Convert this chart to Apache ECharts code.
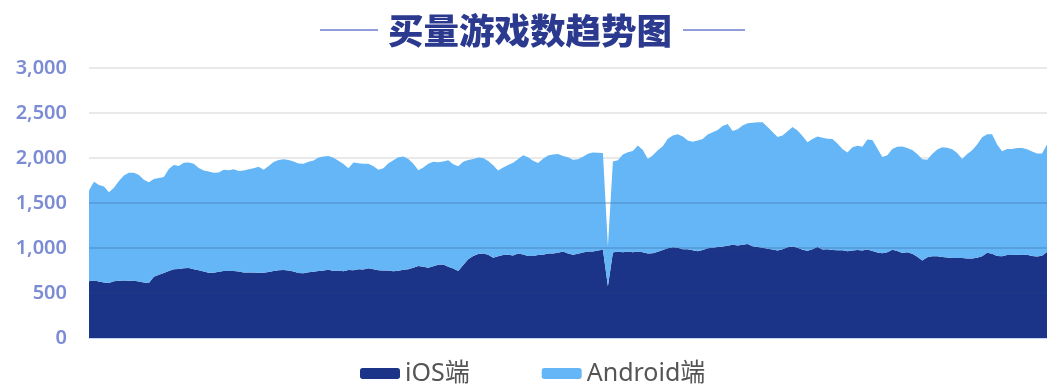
<!DOCTYPE html>
<html>
<head>
<meta charset="utf-8">
<title>买量游戏数趋势图</title>
<script src="https://cdn.jsdelivr.net/npm/echarts@6/dist/echarts.min.js"></script>
<style>
  html, body { margin: 0; padding: 0; background: #ffffff; }
  #chart { width: 1047px; height: 384px; }
</style>
</head>
<body>
<div id="chart"></div>
<script>
// Daily count of games running paid user-acquisition, split by platform
const seriesNames = ['iOS端', 'Android端'];

const iosCounts = [
  630, 638, 628, 617, 612, 630, 637, 640, 637, 636,
  628, 616, 612, 680, 703, 722, 745, 764, 768, 775,
  778, 765, 753, 740, 725, 725, 735, 744, 744, 744,
  738, 729, 729, 729, 725, 725, 734, 744, 754, 756,
  750, 740, 722, 720, 731, 736, 744, 750, 758, 745,
  749, 742, 755, 753, 763, 760, 774, 763, 753, 751,
  749, 742, 746, 757, 765, 780, 799, 793, 780, 798,
  815, 818, 793, 772, 745, 810, 875, 912, 934, 940,
  925, 893, 909, 923, 925, 916, 938, 929, 910, 912,
  923, 925, 940, 938, 948, 960, 940, 925, 935, 949,
  960, 962, 971, 980, 575, 950, 960, 953, 960, 953,
  960, 953, 939, 942, 958, 977, 996, 1009, 1002, 985,
  987, 976, 964, 977, 996, 1004, 1010, 1017, 1024, 1037,
  1028, 1035, 1045, 1020, 1012, 1002, 991, 983, 972, 985,
  1007, 1017, 1004, 980, 969, 985, 1012, 982, 987, 978,
  975, 975, 964, 971, 979, 972, 982, 966, 949, 941,
  954, 980, 967, 944, 952, 935, 902, 860, 896, 909,
  907, 901, 895, 889, 890, 890, 882, 884, 893, 907,
  946, 935, 910, 909, 922, 921, 924, 921, 924, 910,
  905, 915, 955
];

const androidCounts = [
  1010, 1097, 1072, 1067, 1008, 1040, 1108, 1165, 1198, 1199,
  1182, 1142, 1118, 1088, 1074, 1068, 1133, 1158, 1144, 1171,
  1173, 1170, 1137, 1122, 1124, 1111, 1104, 1126, 1121, 1130,
  1118, 1131, 1145, 1157, 1178, 1145, 1178, 1211, 1224, 1230,
  1228, 1220, 1218, 1215, 1226, 1236, 1261, 1266, 1264, 1259,
  1221, 1190, 1130, 1197, 1180, 1176, 1162, 1144, 1117, 1134,
  1193, 1232, 1262, 1261, 1225, 1155, 1066, 1102, 1157, 1160,
  1138, 1142, 1182, 1159, 1163, 1148, 1102, 1078, 1071, 1060,
  1042, 1027, 953, 972, 996, 1030, 1052, 1101, 1097, 1058,
  1022, 1068, 1087, 1101, 1097, 1063, 1068, 1055, 1050, 1066,
  1088, 1098, 1086, 1075, 443, 1012, 1015, 1087, 1104, 1125,
  1180, 1137, 1051, 1088, 1127, 1153, 1219, 1241, 1263, 1255,
  1208, 1204, 1231, 1233, 1264, 1282, 1300, 1338, 1354, 1263,
  1292, 1327, 1340, 1373, 1384, 1394, 1354, 1307, 1261, 1265,
  1291, 1328, 1301, 1265, 1206, 1225, 1228, 1244, 1226, 1233,
  1185, 1125, 1098, 1149, 1156, 1153, 1223, 1234, 1156, 1069,
  1076, 1120, 1158, 1183, 1160, 1153, 1143, 1125, 1084, 1136,
  1188, 1219, 1218, 1207, 1165, 1098, 1163, 1201, 1257, 1323,
  1319, 1330, 1240, 1166, 1177, 1179, 1187, 1189, 1173, 1162,
  1145, 1135, 1195
];

// One category per day; the axis labels are hidden
const dayLabels = iosCounts.map((_, i) => 'Day ' + (i + 1));

const yTicks = { min: 0, max: 3000, interval: 500 };
const innerGridLevels = [500, 1000, 1500];

const chart = echarts.init(document.getElementById('chart'), null, { renderer: 'canvas' });

const labelFont = '"Noto Sans", "Noto Sans CJK SC", sans-serif';

chart.setOption({
  backgroundColor: '#ffffff',
  animation: false,
  title: {
    text: '买量游戏数趋势图',
    left: 388,
    top: 13,
    padding: 0,
    textStyle: {
      fontFamily: '"Noto Sans CJK SC", sans-serif',
      fontSize: 35.5,
      fontWeight: 900,
      color: '#2b3a8e'
    }
  },
  graphic: [
    { type: 'line', shape: { x1: 320, y1: 30, x2: 378, y2: 30 },
      style: { stroke: '#8f9dd8', lineWidth: 2 }, silent: true },
    { type: 'line', shape: { x1: 683, y1: 30, x2: 745, y2: 30 },
      style: { stroke: '#8f9dd8', lineWidth: 2 }, silent: true }
  ],
  legend: {
    data: seriesNames,
    left: 355,
    top: 356,
    itemGap: 72,
    itemWidth: 40,
    itemHeight: 11,
    icon: 'roundRect',
    textStyle: {
      fontFamily: labelFont,
      fontSize: 25,
      color: '#555555'
    }
  },
  grid: {
    left: 89,
    right: -2,
    top: 68,
    bottom: 46,
    containLabel: false
  },
  xAxis: {
    type: 'category',
    data: dayLabels,
    boundaryGap: false,
    axisLine: { show: true, lineStyle: { color: '#c9d6f2', width: 1 } },
    axisTick: { show: false },
    axisLabel: { show: false },
    splitLine: { show: false }
  },
  yAxis: {
    type: 'value',
    min: yTicks.min,
    max: yTicks.max,
    interval: yTicks.interval,
    axisLine: { show: false },
    axisTick: { show: false },
    axisLabel: {
      margin: 22,
      fontFamily: labelFont,
      fontSize: 20,
      fontWeight: 600,
      color: '#7b8cd4',
      formatter: v => v.toLocaleString('en-US')
    },
    splitLine: { show: true, lineStyle: { color: '#e2e2e2', width: 1.5 } }
  },
  series: [
    {
      name: seriesNames[0],
      type: 'line',
      stack: 'games',
      data: iosCounts,
      showSymbol: false,
      smooth: false,
      lineStyle: { width: 0 },
      itemStyle: { color: '#1b3487' },
      areaStyle: { color: '#1b3487', opacity: 1 }
    },
    {
      name: seriesNames[1],
      type: 'line',
      stack: 'games',
      data: androidCounts,
      showSymbol: false,
      smooth: false,
      lineStyle: { width: 0 },
      itemStyle: { color: '#64b6f6' },
      areaStyle: { color: '#64b6f6', opacity: 1 },
      // grid levels redrawn over the filled areas
      markLine: {
        silent: true,
        symbol: 'none',
        label: { show: false },
        lineStyle: { color: 'rgba(40, 70, 120, 0.25)', type: 'solid', width: 1.5 },
        data: innerGridLevels.map(v => ({ yAxis: v }))
      }
    }
  ]
});
</script>
</body>
</html>
